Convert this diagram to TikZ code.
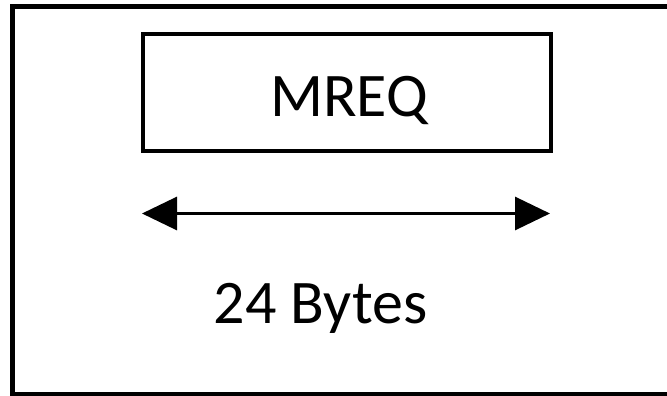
\documentclass[tikz,border=0pt]{standalone}
\usepackage{fontspec}
\setmainfont{Carlito}
\usetikzlibrary{arrows.meta}
\begin{document}
\begin{tikzpicture}[x=1pt,y=-1pt,
  frame/.style={draw=black,line width=5pt,line join=miter},
  fieldbox/.style={draw=black,line width=4pt,minimum width=408pt,minimum height=116pt,inner sep=0pt},
  lbl/.style={font=\fontsize{62}{70}\selectfont,inner sep=0pt,anchor=base},
  span/.style={line width=3pt,{Triangle[length=35pt,width=33pt]}-{Triangle[length=35pt,width=33pt]}}
]
\fill[white] (0,0) rectangle (667,396);
\useasboundingbox (0,0) rectangle (667,396);
% outer frame, open on the right where it runs off the page
\begin{scope}
\clip (0,0) rectangle (667,396);
\draw[frame] (680,7) -- (12,7) -- (12,394.5) -- (680,394.5);
\end{scope}
% field box and its name
\node[fieldbox] (mreq) at (347,92.5) {};
\node[lbl] (mreqtext) at (349,117) {MREQ};
% size arrow
\coordinate (l) at (142,213.5);
\coordinate (r) at (550,213.5);
\draw[span] (l) -- (r);
\node[lbl] (size) at (320.5,323) {24 Bytes};
\end{tikzpicture}
\end{document}
